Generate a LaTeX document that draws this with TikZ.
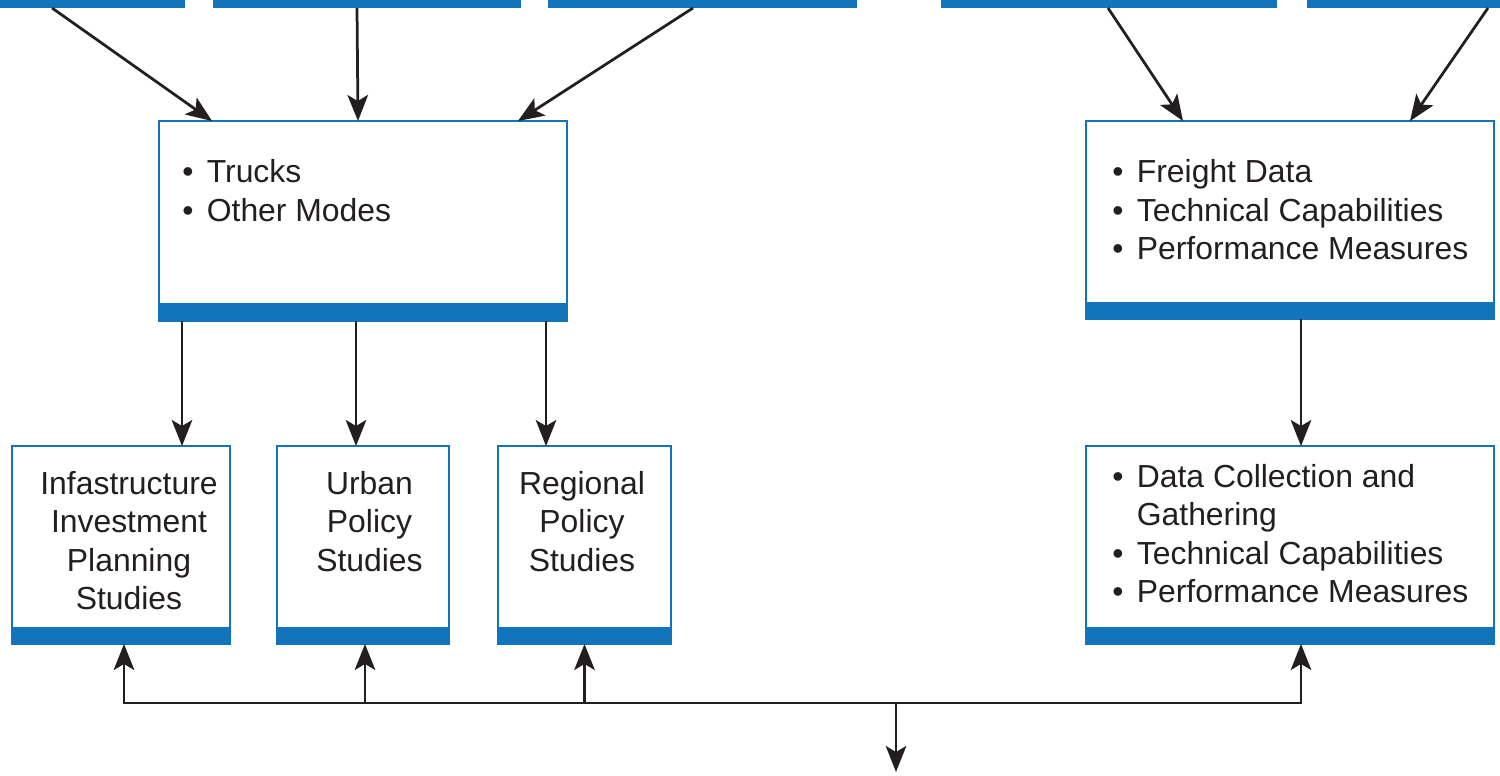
\documentclass[tikz,border=0pt]{standalone}
\usepackage{fontspec}
\setmainfont{Liberation Sans}
\usetikzlibrary{arrows.meta}
\definecolor{boxblue}{RGB}{18,117,188}
\definecolor{ink}{RGB}{35,31,32}
\begin{document}
\begin{tikzpicture}[x=0.02cm,y=-0.02cm,
  arr/.style={draw=ink,line width=0.055cm,-{Stealth[length=0.52cm,width=0.41cm,inset=0.12cm]}},
  topbar/.style={fill=boxblue,minimum height=0.16cm,inner sep=0,outer sep=0},
  box/.style={draw=boxblue,line width=0.04cm,fill=white,inner sep=0,outer sep=0},
  txt/.style={text=ink,font=\fontsize{18.15}{21.9}\selectfont,inner sep=0},
  bul/.style={txt,align=left,anchor=north west},
  ctr/.style={txt,align=center,anchor=north}]
\useasboundingbox (0,0) rectangle (1500,776);
% top bars
\node[topbar,minimum width=3.7cm] (b1) at (92.5,4) {};
\node[topbar,minimum width=6.16cm] (b2) at (367,4) {};
\node[topbar,minimum width=6.18cm] (b3) at (702.5,4) {};
\node[topbar,minimum width=6.72cm] (b4) at (1109,4) {};
\node[topbar,minimum width=3.86cm] (b5) at (1403.5,4) {};
% boxes
\node[box,minimum width=8.16cm,minimum height=4.0cm] (trucks) at (363,221) {};
\fill[boxblue] ([shift={(-0.02cm,-0.02cm)}]trucks.south west) rectangle ([shift={(0.02cm,0.36cm)}]trucks.south east);
\node[box,minimum width=8.16cm,minimum height=3.96cm] (freight) at (1290,220) {};
\fill[boxblue] ([shift={(-0.02cm,-0.02cm)}]freight.south west) rectangle ([shift={(0.02cm,0.34cm)}]freight.south east);
\node[box,minimum width=4.36cm,minimum height=3.96cm] (infra) at (121,545) {};
\fill[boxblue] ([shift={(-0.02cm,-0.02cm)}]infra.south west) rectangle ([shift={(0.02cm,0.34cm)}]infra.south east);
\node[box,minimum width=3.44cm,minimum height=3.96cm] (urban) at (363,545) {};
\fill[boxblue] ([shift={(-0.02cm,-0.02cm)}]urban.south west) rectangle ([shift={(0.02cm,0.34cm)}]urban.south east);
\node[box,minimum width=3.46cm,minimum height=3.96cm] (regional) at (584.5,545) {};
\fill[boxblue] ([shift={(-0.02cm,-0.02cm)}]regional.south west) rectangle ([shift={(0.02cm,0.34cm)}]regional.south east);
\node[box,minimum width=8.16cm,minimum height=3.96cm] (data) at (1290,545) {};
\fill[boxblue] ([shift={(-0.02cm,-0.02cm)}]data.south west) rectangle ([shift={(0.02cm,0.34cm)}]data.south east);
% texts
\node[bul] (truckstxt) at (182,159.5) {\makebox[0.49cm][l]{\textbullet}Trucks\\\makebox[0.49cm][l]{\textbullet}Other Modes};
\node[bul] (freighttxt) at (1112,159.5) {\makebox[0.49cm][l]{\textbullet}Freight Data\\\makebox[0.49cm][l]{\textbullet}Technical Capabilities\\\makebox[0.49cm][l]{\textbullet}Performance Measures};
\node[bul] (datatxt) at (1112,464) {\makebox[0.49cm][l]{\textbullet}Data Collection and\\\hspace*{0.49cm}Gathering\\\makebox[0.49cm][l]{\textbullet}Technical Capabilities\\\makebox[0.49cm][l]{\textbullet}Performance Measures};
\node[ctr] (infratxt) at (129,471) {Infastructure\\Investment\\Planning\\Studies};
\node[ctr] (urbantxt) at (369.5,471) {Urban\\Policy\\Studies};
\node[ctr] (regionaltxt) at (582,471) {Regional\\Policy\\Studies};
% top arrows
\draw[arr] ([xshift=-0.81cm]b1.south) -- ([xshift=-3.02cm]trucks.north);
\draw[arr] ([xshift=-0.2cm]b2.south) -- ([xshift=-0.1cm]trucks.north);
\draw[arr] ([xshift=-0.19cm]b3.south) -- ([xshift=3.1cm]trucks.north);
\draw[arr] ([xshift=-0.02cm]b4.south) -- ([xshift=-2.14cm]freight.north);
\draw[arr] ([xshift=1.69cm]b5.south) -- ([xshift=2.4cm]freight.north);
% middle arrows
\draw[arr] ([xshift=1.22cm]infra.north |- trucks.south) -- ([xshift=1.22cm]infra.north);
\draw[arr] ([xshift=-0.14cm]urban.north |- trucks.south) -- ([xshift=-0.14cm]urban.north);
\draw[arr] ([xshift=-0.77cm]regional.north |- trucks.south) -- ([xshift=-0.77cm]regional.north);
\draw[arr] ([xshift=0.22cm]data.north |- freight.south) -- ([xshift=0.22cm]data.north);
% bottom connectors
\coordinate (hub) at (896,703);
\coordinate (out) at (896,772);
\draw[arr] (hub) -| ([xshift=0.06cm]infra.south);
\draw[arr] (hub) -| ([xshift=0.04cm]urban.south);
\draw[arr] (hub) -| (regional.south);
\draw[arr] (hub) -| ([xshift=0.22cm]data.south);
\draw[arr] (hub) -- (out);
\end{tikzpicture}
\end{document}
